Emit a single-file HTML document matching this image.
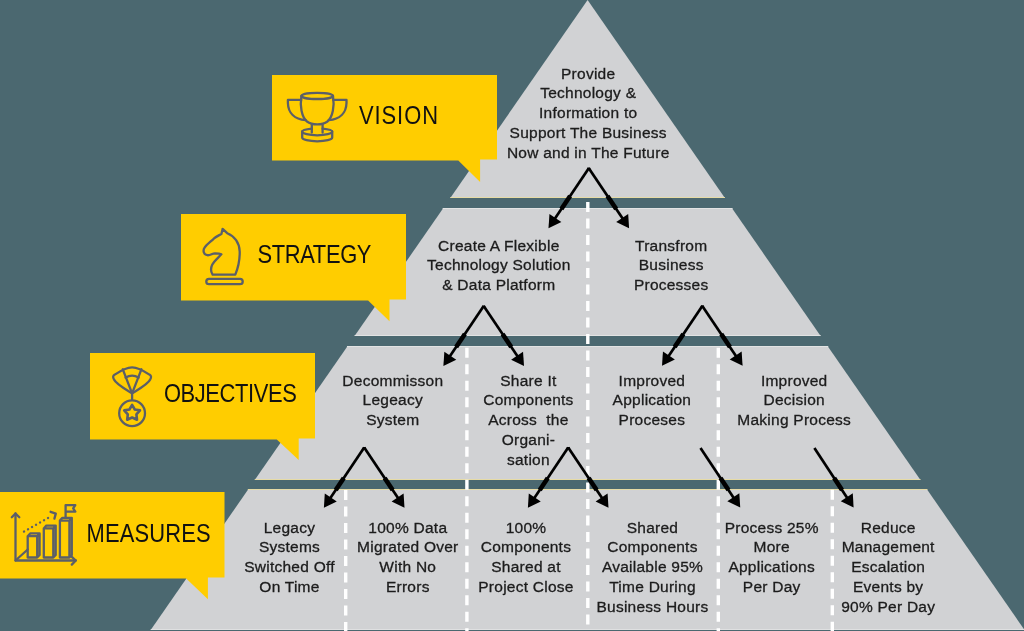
<!DOCTYPE html>
<html><head><meta charset="utf-8"><title>IT Strategy Pyramid</title>
<style>
html,body{margin:0;padding:0;background:#4b6870;}
body{width:1024px;height:631px;overflow:hidden;position:relative;}
svg{position:absolute;left:0;top:0;display:block;will-change:transform;}
.t text{font-family:"Liberation Sans",sans-serif;font-size:15.5px;letter-spacing:0.25px;fill:#1c1c1c;stroke:#1c1c1c;stroke-width:0.3px;text-anchor:middle;}
.l text{font-family:"Liberation Sans",sans-serif;font-size:25.5px;fill:#111;}
</style></head>
<body>
<svg width="1024" height="631" viewBox="0 0 1024 631">
<rect width="1024" height="631" fill="#4b6870"/>
<polygon points="587.6,0 724.91,198 450.29,198" fill="#d1d2d4"/>
<rect x="450.29" y="197" width="274.63" height="1" fill="#e6dba6"/>
<polygon points="443.35,208 731.85,208 820.62,336 354.58,336" fill="#d1d2d4"/>
<rect x="442.66" y="208" width="289.88" height="1" fill="#e2e3e3"/>
<rect x="354.58" y="335" width="466.03" height="1" fill="#e2e3e3"/>
<polygon points="347.65,346 827.55,346 920.48,480 254.72,480" fill="#d1d2d4"/>
<rect x="346.96" y="346" width="481.29" height="1" fill="#e2e3e3"/>
<rect x="254.72" y="479" width="665.76" height="1" fill="#e6dba6"/>
<polygon points="248.48,489 926.72,489 1024.51,630 150.69,630" fill="#d1d2d4"/>
<rect x="247.79" y="489" width="679.63" height="1" fill="#e6dba6"/>
<rect x="150.69" y="629" width="873.81" height="1" fill="#dfe0e1"/>
<line x1="587.8" y1="202" x2="587.8" y2="631" stroke="#ffffff" stroke-width="3.4" stroke-dasharray="10 6.5"/>
<line x1="466.9" y1="347.8" x2="466.9" y2="631" stroke="#ffffff" stroke-width="3.4" stroke-dasharray="10 6.5"/>
<line x1="718.3" y1="347.8" x2="718.3" y2="631" stroke="#ffffff" stroke-width="3.4" stroke-dasharray="10 6.5"/>
<line x1="345.7" y1="490" x2="345.7" y2="631" stroke="#ffffff" stroke-width="3.4" stroke-dasharray="10 6.5"/>
<line x1="832.3" y1="489.8" x2="832.3" y2="631" stroke="#ffffff" stroke-width="3.4" stroke-dasharray="10 6.5"/>
<line x1="588.80" y1="168.20" x2="554.30" y2="219.57" stroke="#000" stroke-width="2.7"/><polygon points="548.50,228.20 549.44,213.89 561.39,221.92" fill="#000"/><line x1="570.13" y1="196" x2="561.40" y2="209" stroke="#000" stroke-width="4.6"/>
<line x1="588.80" y1="168.20" x2="623.30" y2="219.57" stroke="#000" stroke-width="2.7"/><polygon points="629.10,228.20 616.21,221.92 628.16,213.89" fill="#000"/><line x1="607.47" y1="196" x2="616.20" y2="209" stroke="#000" stroke-width="4.6"/>
<polygon points="587.60,167.6 590.00,167.6 590.80,169.7 586.80,169.7" fill="#000"/>
<line x1="483.70" y1="306.00" x2="449.20" y2="357.37" stroke="#000" stroke-width="2.7"/><polygon points="443.40,366.00 444.34,351.69 456.29,359.72" fill="#000"/><line x1="464.89" y1="334" x2="456.16" y2="347" stroke="#000" stroke-width="4.6"/>
<line x1="483.70" y1="306.00" x2="518.20" y2="357.37" stroke="#000" stroke-width="2.7"/><polygon points="524.00,366.00 511.11,359.72 523.06,351.69" fill="#000"/><line x1="502.51" y1="334" x2="511.24" y2="347" stroke="#000" stroke-width="4.6"/>
<polygon points="482.50,305.4 484.90,305.4 485.70,307.5 481.70,307.5" fill="#000"/>
<line x1="702.30" y1="305.90" x2="667.81" y2="357.17" stroke="#000" stroke-width="2.7"/><polygon points="662.00,365.80 662.95,351.49 674.90,359.53" fill="#000"/><line x1="683.39" y1="334" x2="674.65" y2="347" stroke="#000" stroke-width="4.6"/>
<line x1="702.30" y1="305.90" x2="736.79" y2="357.17" stroke="#000" stroke-width="2.7"/><polygon points="742.60,365.80 729.70,359.53 741.65,351.49" fill="#000"/><line x1="721.21" y1="334" x2="729.95" y2="347" stroke="#000" stroke-width="4.6"/>
<polygon points="701.10,305.29999999999995 703.50,305.29999999999995 704.30,307.4 700.30,307.4" fill="#000"/>
<line x1="364.20" y1="447.50" x2="329.69" y2="499.06" stroke="#000" stroke-width="2.7"/><polygon points="323.90,507.70 324.81,493.39 336.78,501.40" fill="#000"/><line x1="343.78" y1="478" x2="335.75" y2="490" stroke="#000" stroke-width="4.6"/>
<line x1="364.20" y1="447.50" x2="398.71" y2="499.06" stroke="#000" stroke-width="2.7"/><polygon points="404.50,507.70 391.62,501.40 403.59,493.39" fill="#000"/><line x1="384.62" y1="478" x2="392.65" y2="490" stroke="#000" stroke-width="4.6"/>
<polygon points="363.00,446.9 365.40,446.9 366.20,449.0 362.20,449.0" fill="#000"/>
<line x1="568.20" y1="447.50" x2="533.69" y2="499.06" stroke="#000" stroke-width="2.7"/><polygon points="527.90,507.70 528.81,493.39 540.78,501.40" fill="#000"/><line x1="547.78" y1="478" x2="539.75" y2="490" stroke="#000" stroke-width="4.6"/>
<line x1="568.20" y1="447.50" x2="602.71" y2="499.06" stroke="#000" stroke-width="2.7"/><polygon points="608.50,507.70 595.62,501.40 607.59,493.39" fill="#000"/><line x1="588.62" y1="478" x2="596.65" y2="490" stroke="#000" stroke-width="4.6"/>
<polygon points="567.00,446.9 569.40,446.9 570.20,449.0 566.20,449.0" fill="#000"/>
<line x1="700.50" y1="448.00" x2="734.43" y2="498.94" stroke="#000" stroke-width="2.7"/><polygon points="740.20,507.60 727.33,501.27 739.32,493.29" fill="#000"/><line x1="720.48" y1="478" x2="728.48" y2="490" stroke="#000" stroke-width="4.6"/>
<line x1="814.40" y1="448.00" x2="847.89" y2="498.91" stroke="#000" stroke-width="2.7"/><polygon points="853.60,507.60 840.77,501.20 852.80,493.28" fill="#000"/><line x1="834.13" y1="478" x2="842.02" y2="490" stroke="#000" stroke-width="4.6"/>
<polygon points="272,75 497,75 497,159.6 480.1,159.6 480.1,182 458.3,160.5 272,160.5" fill="#ffcd00"/>
<polygon points="181,214 406,214 406,299.6 389.5,299.6 389.5,321.2 368.1,300.5 181,300.5" fill="#ffcd00"/>
<polygon points="90,353 315,353 315,438.6 298.7,438.6 298.7,460 276.8,439.5 90,439.5" fill="#ffcd00"/>
<polygon points="-2,492 224.5,492 224.5,577.6 207.9,577.6 207.9,599.2 186.2,578.5 -2,578.5" fill="#ffcd00"/>
<g fill="none" stroke="#5b5f68" stroke-width="2.3" stroke-linecap="round" stroke-linejoin="round"><ellipse cx="317.2" cy="95.9" rx="15.8" ry="3.1"/><path d="M301.4,96 C299.8,106 301.5,117 307,121.5 C310,123.8 313.5,124.4 317.2,124.4 C320.9,124.4 324.4,123.8 327.4,121.5 C332.9,117 334.6,106 333,96"/><path d="M301.2,99.9 H287.9 V103 C288.2,113 294.5,119.3 305.6,120.2"/><path d="M333.2,99.9 H346.5 V103 C346.2,113 339.9,119.3 328.8,120.2"/><path d="M311.8,124.2 V132.6 M322.6,124.2 V132.6"/><path d="M311.8,128.6 C306,129.2 302.2,130.3 302.2,131.5 C302.2,133.6 308.9,135.3 317.2,135.3 C325.5,135.3 332.2,133.6 332.2,131.5 C332.2,130.3 328.4,129.2 322.6,128.6"/><path d="M302.2,131.5 V137.5 C302.2,139.6 308.9,141.3 317.2,141.3 C325.5,141.3 332.2,139.6 332.2,137.5 V131.5"/></g>
<g fill="none" stroke="#5b5f68" stroke-width="2.3" stroke-linecap="round" stroke-linejoin="round"><path d="M222.6,228.9 L221.4,234 C218.5,235.6 215.5,236.8 213.6,238.8 C210.5,241.8 206.5,244.8 204.6,247.6 C202.6,250.6 203.6,254.6 207.4,255.2 C210.4,255.6 212.2,253.3 215,253.3 C217.8,253.4 219.8,253.6 221.4,254.3 C218.2,257.8 214.2,261 212.2,264.8 C210.7,268 210.9,272 212.6,274.6 H235.3 C237.2,270 239.9,260 239.7,251.5 C239.5,243 234.5,236 227.2,233.2 Z"/><rect x="206.3" y="278.8" width="36.4" height="5.4" rx="2.7"/></g>
<g fill="none" stroke="#5b5f68" stroke-width="2.3" stroke-linecap="round" stroke-linejoin="round"><path d="M132.1,393.3 C125,389 116,384 114,379.5 C112.6,377 113,375.6 114.8,374.6 C120,371 126,367.3 132.1,367.3 C138.2,367.3 144.2,371 149.4,374.6 C151.2,375.6 151.6,377 150.2,379.5 C148.2,384 139.2,389 132.1,393.3 Z"/><path d="M122.8,369.3 L132.1,393.3 L141.4,369.3"/><path d="M125.6,377.6 C129.5,375.3 134.7,375.3 138.6,377.6"/><path d="M132.1,393.3 V399.4"/><circle cx="132.1" cy="413.2" r="12.9"/><path d="M132.1,404.9 L134.8,409.5 L140,410.4 L136.4,414.4 L137,419.7 L132.1,417.5 L127.2,419.7 L127.8,414.4 L124.2,410.4 L129.4,409.5 Z" stroke-width="2.6"/></g>
<g fill="none" stroke="#5b5f68" stroke-width="2.3" stroke-linecap="round" stroke-linejoin="round"><path d="M15.5,513.5 V560.5 H75.8"/><path d="M11.8,517.3 L15.5,513.5 L19.3,517.3"/><path d="M71.8,556.8 L75.8,560.5 L71.8,564.6"/><path d="M15.5,560.5 L27.7,549.5"/><path d="M27.7,557.5 V536.2 H37.2 V557.5 Z M27.7,536.2 L30.2,533.4 H39.6 L37.2,536.2 M39.6,533.4 V555 L37.2,557.5"/><path d="M43.8,557.5 V528.4 H53.3 V557.5 Z M43.8,528.4 L46.3,525.6 H55.7 L53.3,528.4 M55.7,525.6 V555 L53.3,557.5"/><path d="M59.9,557.5 V520.6 H69.4 V557.5 Z M59.9,520.6 L62.4,517.8 H71.8 L69.4,520.6 M71.8,517.8 V555 L69.4,557.5"/><path d="M65.6,517.8 V505.2 H75.3 L73.2,508.4 L75.3,511.6 H65.6"/><path d="M24,531.6 L51.2,516.1" stroke-dasharray="0.1 4.5"/><path d="M50.6,511.8 L55.8,513.6 L54.4,518.6"/></g>
<g class="t">
<text x="588.2" y="78.70">Provide</text>
<text x="588.2" y="98.45">Technology &amp;</text>
<text x="588.2" y="118.20">Information to</text>
<text x="588.2" y="137.95">Support The Business</text>
<text x="588.2" y="157.70">Now and in The Future</text>
<text x="498.8" y="250.60">Create A Flexible</text>
<text x="498.8" y="270.35">Technology Solution</text>
<text x="498.8" y="290.10">&amp; Data Platform</text>
<text x="671.2" y="250.60">Transfrom</text>
<text x="671.2" y="270.35">Business</text>
<text x="671.2" y="290.10">Processes</text>
<text x="392.8" y="385.60">Decommisson</text>
<text x="392.8" y="405.35">Legeacy</text>
<text x="392.8" y="425.10">System</text>
<text x="528.4" y="385.60">Share It</text>
<text x="528.4" y="405.35">Components</text>
<text x="528.4" y="425.10">Across&#160; the</text>
<text x="528.4" y="444.85">Organi-</text>
<text x="528.4" y="464.60">sation</text>
<text x="651.9" y="385.60">Improved</text>
<text x="651.9" y="405.35">Application</text>
<text x="651.9" y="425.10">Proceses</text>
<text x="794.2" y="385.60">Improved</text>
<text x="794.2" y="405.35">Decision</text>
<text x="794.2" y="425.10">Making Process</text>
<text x="289.5" y="532.70">Legacy</text>
<text x="289.5" y="552.45">Systems</text>
<text x="289.5" y="572.20">Switched Off</text>
<text x="289.5" y="591.95">On Time</text>
<text x="407.8" y="532.70">100% Data</text>
<text x="407.8" y="552.45">Migrated Over</text>
<text x="407.8" y="572.20">With No</text>
<text x="407.8" y="591.95">Errors</text>
<text x="526.0" y="532.70">100%</text>
<text x="526.0" y="552.45">Components</text>
<text x="526.0" y="572.20">Shared at</text>
<text x="526.0" y="591.95">Project Close</text>
<text x="652.5" y="532.70">Shared</text>
<text x="652.5" y="552.45">Components</text>
<text x="652.5" y="572.20">Available 95%</text>
<text x="652.5" y="591.95">Time During</text>
<text x="652.5" y="611.70">Business Hours</text>
<text x="771.7" y="532.70">Process 25%</text>
<text x="771.7" y="552.45">More</text>
<text x="771.7" y="572.20">Applications</text>
<text x="771.7" y="591.95">Per Day</text>
<text x="888.2" y="532.70">Reduce</text>
<text x="888.2" y="552.45">Management</text>
<text x="888.2" y="572.20">Escalation</text>
<text x="888.2" y="591.95">Events by</text>
<text x="888.2" y="611.70">90% Per Day</text>
</g>
<g class="l">
<text x="0" y="0" letter-spacing="1.12" transform="translate(358.9,123.9) scale(0.86,1)">VISION</text>
<text x="0" y="0" letter-spacing="-0.42" transform="translate(257.5,263.3) scale(0.86,1)">STRATEGY</text>
<text x="0" y="0" letter-spacing="-0.45" transform="translate(163.9,402.3) scale(0.86,1)">OBJECTIVES</text>
<text x="0" y="0" letter-spacing="0.2" transform="translate(86.5,542.2) scale(0.86,1)">MEASURES</text>
</g>
</svg>
</body></html>
